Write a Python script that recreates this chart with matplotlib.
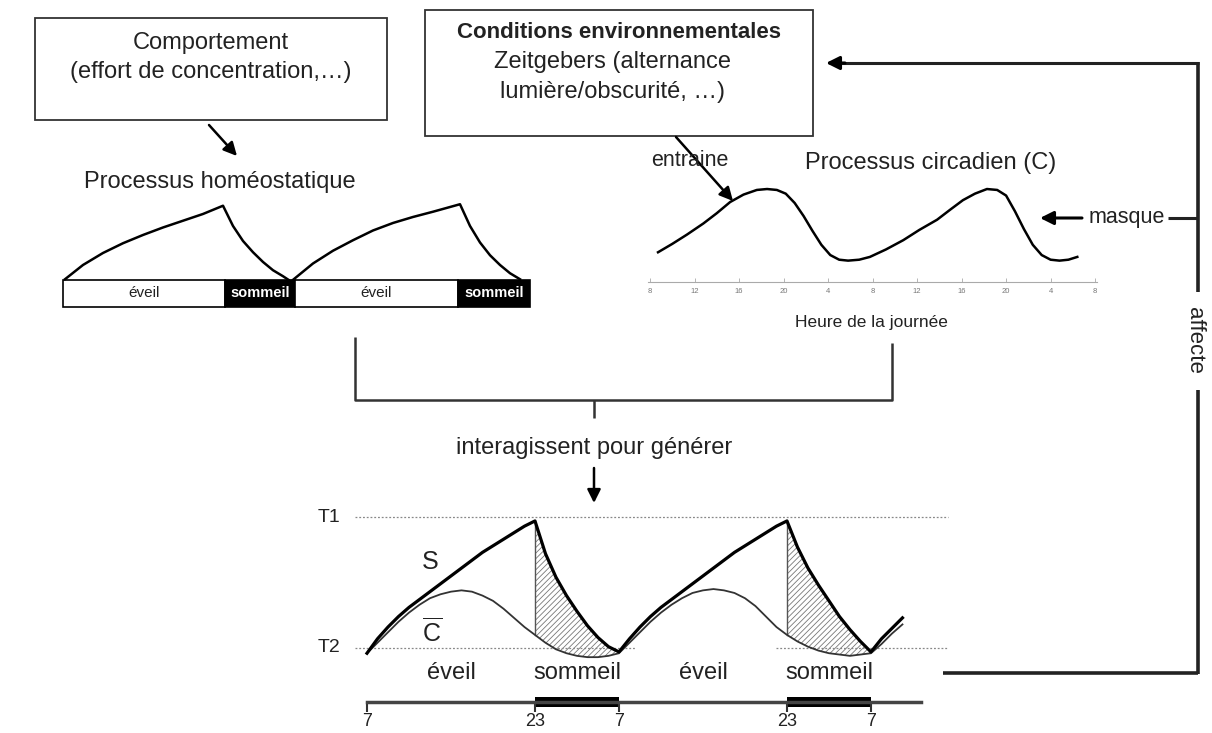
import matplotlib
matplotlib.use("Agg")
import matplotlib.pyplot as plt
import numpy as np
from matplotlib.patches import Rectangle

plt.rcParams['font.family'] = ['Liberation Sans', 'DejaVu Sans']
plt.rcParams['mathtext.fontset'] = 'custom'
plt.rcParams['mathtext.rm'] = 'Liberation Sans'
plt.rcParams['hatch.linewidth'] = 0.6

# --- homeostatic process (top left), hours vs pressure
HOMEO_X = [0.2, 2, 4, 6, 8, 10, 12, 14, 16, 17, 18, 19, 20, 21, 22, 22.8,
           25, 27, 29, 31, 33, 35, 37, 39.7, 40.7, 41.7, 42.7, 43.7, 44.7, 45.7]
HOMEO_Y = [0.01, 0.20, 0.36, 0.49, 0.60, 0.70, 0.79, 0.88, 0.99, 0.72, 0.52, 0.37, 0.24, 0.13, 0.05, -0.02,
           0.22, 0.39, 0.53, 0.66, 0.76, 0.84, 0.91, 1.01, 0.72, 0.50, 0.33, 0.20, 0.09, 0.01]
BAR_EDGES = [0, 16.2, 23.2, 39.5, 46.7]
BAR_STATES = ['éveil', 'sommeil', 'éveil', 'sommeil']

# --- circadian process (top right)
CIRC_U = [0.18, 0.5, 0.83, 1.2, 1.5, 1.8, 2.1, 2.4, 2.63, 2.85, 3.05, 3.25, 3.45, 3.65, 3.85, 4.05,
          4.25, 4.45, 4.7, 4.94, 5.3, 5.69, 6.05, 6.45, 6.75, 7.03, 7.3, 7.57, 7.8, 8.0, 8.2, 8.4,
          8.6, 8.8, 9.0, 9.2, 9.4, 9.6]
CIRC_V = [0.32, 0.41, 0.51, 0.63, 0.74, 0.86, 0.94, 0.99, 1.00, 0.99, 0.95, 0.85, 0.71, 0.55, 0.40, 0.29,
          0.24, 0.23, 0.24, 0.27, 0.35, 0.45, 0.56, 0.67, 0.78, 0.88, 0.95, 1.00, 0.99, 0.93, 0.76, 0.57,
          0.40, 0.29, 0.24, 0.23, 0.24, 0.27]
CIRC_TICKS = ['8', '12', '16', '20', '4', '8', '12', '16', '20', '4', '8']

# --- two-process model (bottom), hours since 7:00, T2 = 0, T1 = 1
T_HOURS = list(range(52))
S_VALUES = [-0.04, 0.07, 0.16, 0.24, 0.31, 0.37, 0.43, 0.49, 0.55, 0.61, 0.67, 0.73, 0.78, 0.83, 0.88, 0.93, 0.97,
            0.72, 0.54, 0.40, 0.28, 0.17, 0.08, 0.01, -0.03,
            0.07, 0.16, 0.24, 0.31, 0.37, 0.43, 0.49, 0.55, 0.61, 0.67, 0.73, 0.78, 0.83, 0.88, 0.93, 0.97,
            0.77, 0.61, 0.48, 0.36, 0.24, 0.14, 0.05, -0.03,
            0.07, 0.15, 0.23]
C_VALUES = [-0.04, 0.04, 0.12, 0.20, 0.27, 0.33, 0.38, 0.41, 0.43, 0.44, 0.43, 0.40, 0.36, 0.30, 0.23, 0.16, 0.10,
            0.04, -0.01, -0.04, -0.06, -0.07, -0.07, -0.06, -0.04,
            0.04, 0.12, 0.20, 0.27, 0.33, 0.38, 0.42, 0.44, 0.45, 0.44, 0.42, 0.38, 0.32, 0.24, 0.16, 0.10,
            0.05, 0.01, -0.02, -0.04, -0.05, -0.06, -0.05, -0.04,
            0.03, 0.11, 0.18]
SLEEP_SPANS = [(16, 24), (40, 48)]
CLOCK_POS = [0, 16, 24, 40, 48]
CLOCK_LABELS = ['7', '23', '7', '23', '7']
PHASE_CENTERS = [8, 20, 32, 44]
PHASE_LABELS = ['éveil', 'sommeil', 'éveil', 'sommeil']

W, H = 1212, 733
INK = '#222222'

fig = plt.figure(figsize=(W / 100, H / 100), dpi=100)
fig.patch.set_facecolor('white')

# background axes in pixel coordinates for the boxes and arrows
bg = fig.add_axes([0, 0, 1, 1])
bg.set_xlim(0, W)
bg.set_ylim(H, 0)
bg.axis('off')


def px_axes(x0, y0, x1, y1, xlim, ylim):
    ax = fig.add_axes([x0 / W, 1 - y1 / H, (x1 - x0) / W, (y1 - y0) / H])
    ax.set_xlim(xlim)
    ax.set_ylim(ylim)
    ax.patch.set_alpha(0)
    for s in ax.spines.values():
        s.set_visible(False)
    ax.set_yticks([])
    return ax


def arrow(p0, p1, lw=1.8):
    bg.annotate('', xy=p1, xytext=p0,
                arrowprops=dict(arrowstyle='-|>', lw=lw, color='black',
                                mutation_scale=20, shrinkA=0, shrinkB=0))


def line(xs, ys, lw=2.2, color='#222222'):
    bg.plot(xs, ys, color=color, lw=lw, solid_capstyle='butt')


# boxes
bg.add_patch(Rectangle((35, 18), 352, 102, fill=False, lw=1.3, edgecolor='#333333'))
bg.add_patch(Rectangle((425, 10), 388, 126, fill=False, lw=1.3, edgecolor='#333333'))
bg.text(211, 43, 'Comportement', ha='center', va='center', fontsize=17, color=INK)
bg.text(211, 72, '(effort de concentration,\u2026)', ha='center', va='center', fontsize=17, color=INK)
bg.text(619, 33, 'Conditions environnementales', ha='center', va='center', fontsize=16,
        fontweight='bold', color=INK)
bg.text(612, 62, 'Zeitgebers (alternance', ha='center', va='center', fontsize=17, color=INK)
bg.text(612, 92, 'lumière/obscurité, \u2026)', ha='center', va='center', fontsize=17, color=INK)

arrow((209, 125), (237, 156))
bg.text(220, 182, 'Processus homéostatique', ha='center', va='center', fontsize=17, color=INK)

# entraine / circadian titles
arrow((676, 137), (733, 201))
bg.text(690, 160, 'entraine', ha='center', va='center', fontsize=15.5, color=INK)
bg.text(931, 163, 'Processus circadien (C)', ha='center', va='center', fontsize=17, color=INK)
bg.text(871, 323, 'Heure de la journée', ha='center', va='center', fontsize=12.5, color=INK)

# masque / affecte feedback loop
line([943, 1198], [673, 673], lw=2.6)
line([1198, 1198], [674, 390], lw=2.6)
line([1198, 1198], [292, 62], lw=2.6)
line([1199, 840], [63, 63], lw=2.2)
arrow((845, 63), (826, 63), lw=2.2)
line([1168, 1198], [218, 218], lw=2.2)
arrow((1082, 218), (1040, 218), lw=2.2)
bg.text(1127, 217, 'masque', ha='center', va='center', fontsize=15.5, color=INK)
bg.text(1194, 340, 'affecte', ha='center', va='center', rotation=270, fontsize=16, color=INK)

# bracket combining both processes
line([355, 355, 892, 892], [337, 400, 400, 343], lw=1.8, color='#333333')
line([594, 594], [400, 418], lw=1.8, color='#333333')
bg.text(594, 448, 'interagissent pour générer', ha='center', va='center', fontsize=17, color=INK)
arrow((594, 468), (594, 503))

# ---- homeostatic chart
ax1 = px_axes(55, 195, 540, 312, (-0.8, 47.7), (-0.427, 1.133))
ax1.set_xticks([])
lefts = BAR_EDGES[:-1]
widths = np.diff(BAR_EDGES)
colors = ['white' if s == 'éveil' else 'black' for s in BAR_STATES]
ax1.bar(lefts, -0.36, width=widths, bottom=0, align='edge', color=colors,
        edgecolor='black', linewidth=1.2)
for left, wd, s in zip(lefts, widths, BAR_STATES):
    if s == 'éveil':
        ax1.text(left + wd / 2, -0.18, s, ha='center', va='center', fontsize=11, color=INK)
    else:
        ax1.text(left + wd / 2, -0.18, s, ha='center', va='center', fontsize=10.5,
                 color='white', fontweight='bold')
ax1.plot(HOMEO_X, HOMEO_Y, color='black', lw=1.8)

# ---- circadian chart
ax2 = px_axes(640, 180, 1100, 305, (-0.225, 10.11), (-0.247, 1.097))
ax2.plot(CIRC_U, CIRC_V, color='black', lw=1.8)
ax2.spines['bottom'].set_visible(True)
ax2.spines['bottom'].set_position(('data', 0))
ax2.spines['bottom'].set_bounds(-0.05, 10.05)
ax2.spines['bottom'].set_color('#aaaaaa')
ax2.spines['bottom'].set_linewidth(0.8)
ax2.set_xticks(range(len(CIRC_TICKS)))
ax2.set_xticklabels(CIRC_TICKS)
ax2.tick_params(axis='x', direction='in', length=3, width=0.6, color='#aaaaaa',
                labelsize=5.5, labelcolor='#777777', pad=4)

# ---- two-process chart
ax3 = px_axes(300, 495, 960, 733, (-6.38, 56.48), (-0.649, 1.168))
t = np.array(T_HOURS)
s_arr = np.array(S_VALUES)
c_arr = np.array(C_VALUES)

ax3.plot([-1.1, 55.3], [1, 1], color='#888888', lw=0.9, ls=(0, (1.5, 1.5)))
ax3.plot([-1.1, 25.5], [0, 0], color='#888888', lw=0.9, ls=(0, (1.5, 1.5)))
ax3.plot([39, 55.3], [0, 0], color='#888888', lw=0.9, ls=(0, (1.5, 1.5)))

for a, b in SLEEP_SPANS:
    m = (t >= a) & (t <= b)
    ax3.fill_between(t[m], c_arr[m], s_arr[m], facecolor='white', edgecolor='#777777',
                     hatch='//////', linewidth=0)
    i = T_HOURS.index(a)
    ax3.plot([a, a], [c_arr[i], s_arr[i]], color='#555555', lw=1.0)

ax3.plot(t, c_arr, color='#333333', lw=1.3)
ax3.plot(t, s_arr, color='black', lw=2.3)

ax3.text(6.0, 0.66, 'S', ha='center', va='center', fontsize=18, color=INK)
ax3.text(6.2, 0.12, r'$\overline{\mathrm{C}}$', ha='center', va='center', fontsize=18, color=INK)
ax3.text(-3.6, 1, 'T1', ha='center', va='center', fontsize=14, color=INK)
ax3.text(-3.6, 0, 'T2', ha='center', va='center', fontsize=14, color=INK)
for x, lab in zip(PHASE_CENTERS, PHASE_LABELS):
    ax3.text(x, -0.19, lab, ha='center', va='center', fontsize=17, color=INK)

for a, b in SLEEP_SPANS:
    ax3.bar(a, 0.07, width=b - a, bottom=-0.447, align='edge', color='black', linewidth=0)

ax3.spines['bottom'].set_visible(True)
ax3.spines['bottom'].set_position(('data', -0.412))
ax3.spines['bottom'].set_bounds(0, 52.8)
ax3.spines['bottom'].set_linewidth(2.5)
ax3.spines['bottom'].set_color('#444444')
ax3.set_xticks(CLOCK_POS)
ax3.set_xticklabels(CLOCK_LABELS)
ax3.tick_params(axis='x', direction='out', length=7, width=1.5, color='#333333',
                labelsize=13, labelcolor=INK, pad=1)

fig.savefig('out.png', dpi=100, facecolor='white')
